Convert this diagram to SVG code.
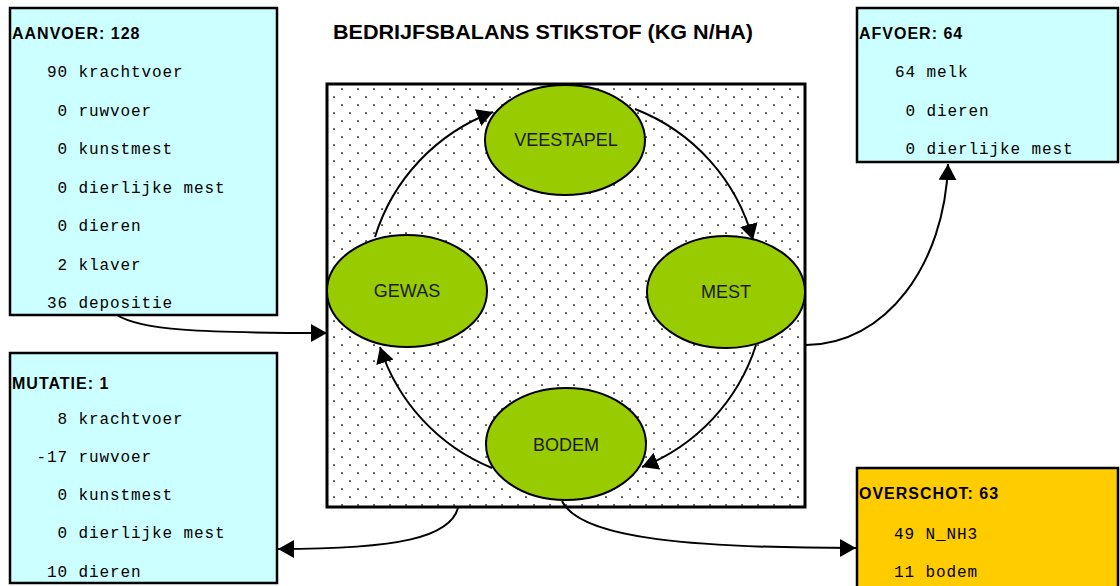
<svg xmlns="http://www.w3.org/2000/svg" width="1120" height="586" viewBox="0 0 1120 586">
<style>
.box{stroke:#000;stroke-width:2.5}
.cyan{fill:#ccffff}
.orange{fill:#ffcc00}
.hdr{font-family:"Liberation Sans",Arial,sans-serif;font-weight:bold;font-size:16px;letter-spacing:1px;fill:#000}
.row{font-family:"Liberation Mono","Courier New",monospace;font-size:16px;letter-spacing:0.9px;fill:#000;white-space:pre}
.ell{fill:#99cc00;stroke:#000;stroke-width:2}
.lbl{font-family:"Liberation Sans",Arial,sans-serif;font-size:18px;fill:#1a1a1a;text-anchor:middle}
.con{fill:none;stroke:#000;stroke-width:2;marker-end:url(#ah)}
</style>
<defs>
<pattern id="dots" patternUnits="userSpaceOnUse" x="338" y="85" width="16" height="16">
<rect x="3.2" y="3.2" width="1.7" height="1.7" fill="#333"/>
<rect x="11.2" y="11.2" width="1.7" height="1.7" fill="#333"/>
</pattern>
<marker id="ah" markerUnits="userSpaceOnUse" markerWidth="18" markerHeight="18" refX="16" refY="9" orient="auto">
<path d="M0,0 L16,9 L0,18 z" fill="#000"/>
</marker>
</defs>
<rect width="1120" height="586" fill="#fff"/>

<text class="hdr" x="333" y="39" textLength="420" lengthAdjust="spacingAndGlyphs" style="font-size:20px;letter-spacing:0">BEDRIJFSBALANS STIKSTOF (KG N/HA)</text>

<g id="balance">
<rect x="327" y="84" width="478" height="423" fill="url(#dots)" stroke="#000" stroke-width="3"/>
</g>

<g id="aanvoer">
<rect class="box cyan" x="10" y="8" width="267" height="307"/>
<text class="hdr" x="12" y="39">AANVOER: 128</text>
<text class="row" x="47" y="77" xml:space="preserve">90 krachtvoer</text>
<text class="row" x="47" y="115.5" xml:space="preserve"> 0 ruwvoer</text>
<text class="row" x="47" y="154" xml:space="preserve"> 0 kunstmest</text>
<text class="row" x="47" y="192.5" xml:space="preserve"> 0 dierlijke mest</text>
<text class="row" x="47" y="231" xml:space="preserve"> 0 dieren</text>
<text class="row" x="47" y="269.5" xml:space="preserve"> 2 klaver</text>
<text class="row" x="47" y="308" xml:space="preserve">36 depositie</text>
</g>

<g id="afvoer">
<rect class="box cyan" x="857" y="8" width="261" height="154"/>
<text class="hdr" x="859" y="39">AFVOER: 64</text>
<text class="row" x="895" y="77" xml:space="preserve">64 melk</text>
<text class="row" x="895" y="116" xml:space="preserve"> 0 dieren</text>
<text class="row" x="895" y="154" xml:space="preserve"> 0 dierlijke mest</text>
</g>

<g id="mutatie">
<rect class="box cyan" x="10" y="353" width="267" height="230"/>
<text class="hdr" x="12" y="389">MUTATIE: 1</text>
<text class="row" x="36.5" y="423.5" xml:space="preserve">  8 krachtvoer</text>
<text class="row" x="36.5" y="461.5" xml:space="preserve">-17 ruwvoer</text>
<text class="row" x="36.5" y="499.5" xml:space="preserve">  0 kunstmest</text>
<text class="row" x="36.5" y="537.5" xml:space="preserve">  0 dierlijke mest</text>
<text class="row" x="36.5" y="576.5" xml:space="preserve"> 10 dieren</text>
</g>

<g id="overschot">
<rect class="box orange" x="857" y="468" width="261" height="130"/>
<text class="hdr" x="859" y="499">OVERSCHOT: 63</text>
<text class="row" x="894" y="538.5" xml:space="preserve">49 N_NH3</text>
<text class="row" x="894" y="577" xml:space="preserve">11 bodem</text>
</g>

<g id="veestapel">
<ellipse class="ell" cx="565" cy="140" rx="80" ry="55"/>
<text class="lbl" x="566" y="146">VEESTAPEL</text>
</g>
<g id="gewas">
<ellipse class="ell" cx="407" cy="291" rx="80" ry="56"/>
<text class="lbl" x="407" y="297">GEWAS</text>
</g>
<g id="mest">
<ellipse class="ell" cx="726" cy="292" rx="79" ry="56"/>
<text class="lbl" x="726" y="298">MEST</text>
</g>
<g id="bodem">
<ellipse class="ell" cx="566" cy="444" rx="80" ry="56"/>
<text class="lbl" x="566" y="451">BODEM</text>
</g>

<g id="connectors">
<path class="con" d="M375,237 A195,195 0 0 1 493,112"/>
<path class="con" d="M635,109 A195,195 0 0 1 753,240"/>
<path class="con" d="M756,345 A195,195 0 0 1 642,467"/>
<path class="con" d="M492,468 A195,195 0 0 1 380,347"/>
<path class="con" d="M117,315 C140,330 200,333 327,333"/>
<path class="con" d="M806,345 C885,345 945,265 948,164"/>
<path class="con" d="M458,508 C450,537 400,549 278,549"/>
<path class="con" d="M562,501 C580,540 700,548 856,548"/>
</g>
</svg>
